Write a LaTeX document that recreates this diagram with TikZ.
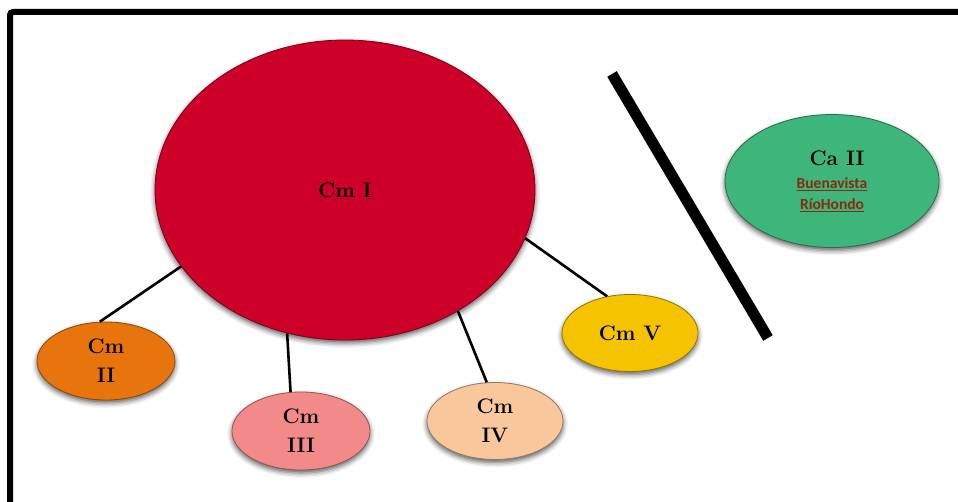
\documentclass[tikz,border=0pt]{standalone}
\usepackage{fontspec}
\newfontfamily\labelsans{Carlito}
\usetikzlibrary{shapes.geometric,shadows.blur}

% base colours of the glossy ellipses
\definecolor{cmIred}{HTML}{CC0029}
\definecolor{cmIIorange}{HTML}{E8740E}
\definecolor{cmIIIpink}{HTML}{F38A8A}
\definecolor{cmIVpeach}{HTML}{F8C89C}
\definecolor{cmVyellow}{HTML}{F6C300}
\definecolor{caIIgreen}{HTML}{3DB57B}
\definecolor{placebrown}{HTML}{8B2A0E}

% radial gloss: flat body, bevelled darker rim; follows the colour glosscol
\colorlet{glosscol}{red}
\pgfdeclareradialshading[glosscol]{gloss}{\pgfpoint{0bp}{0bp}}{%
  color(0bp)=(glosscol);
  color(40bp)=(glosscol);
  color(46bp)=(glosscol!88!black);
  color(50bp)=(glosscol!50!black)}

\tikzset{
  blob/.style={ellipse, inner sep=0pt, align=center,
    /utils/exec={\colorlet{glosscol}{#1}}, shading=gloss,
    draw=#1!60!black, line width=0.8pt,
    blur shadow={shadow xshift=0pt, shadow yshift=-3pt,
      shadow blur radius=5pt, shadow opacity=65},
    font=\bfseries\fontsize{21}{29}\selectfont},
  link/.style={draw=black, line width=2.6pt},
  bar/.style={draw=black, line width=11pt},
  frame/.style={draw=black, line width=6pt, rounded corners=3pt},
}

\begin{document}
\begin{tikzpicture}[x=1pt, y=-1pt]
  \useasboundingbox (0,0) rectangle (958,502);

  % outer frame, running off the right and bottom edges
  \coordinate (frameLow) at (10,540);
  \coordinate (frameRight) at (1000,12);
  \draw[frame] (frameLow) |- (frameRight);

  % the main group and its four satellites
  \node[blob=cmIred, minimum width=380pt, minimum height=300pt] (cmI) at (345,190) {Cm I};
  \node[blob=cmIIorange, minimum width=138pt, minimum height=78pt] (cmII) at (106,361) {Cm\\II};
  \node[blob=cmIIIpink, minimum width=138pt, minimum height=78pt] (cmIII) at (301,431) {Cm\\III};
  \node[blob=cmIVpeach, minimum width=136pt, minimum height=77pt] (cmIV) at (495,421) {Cm\\IV};
  \node[blob=cmVyellow, minimum width=136pt, minimum height=77pt] (cmV) at (630,333) {Cm V};

  % the separate group
  \node[blob=caIIgreen, minimum width=214pt, minimum height=133pt] (caII) at (832,181)
    {\hspace*{10pt}Ca II\\[-6pt]{\labelsans\fontsize{15.5}{21}\selectfont\color{placebrown}\underline{Buenavista}}\\[-8pt]
     {\labelsans\fontsize{15.5}{21}\selectfont\color{placebrown}\underline{RíoHondo}}};

  % links from the main group
  \draw[link] (cmI.205) -- (cmII.99);
  \draw[link] (cmI.248) -- (cmIII.105);
  \draw[link] (cmI.313) -- (cmIV.102);
  \draw[link] (cmI.345) -- (cmV.122);

  % dividing bar
  \coordinate (barTop) at (612,74);
  \coordinate (barBot) at (768,338);
  \draw[bar] (barTop) -- (barBot);
\end{tikzpicture}
\end{document}
